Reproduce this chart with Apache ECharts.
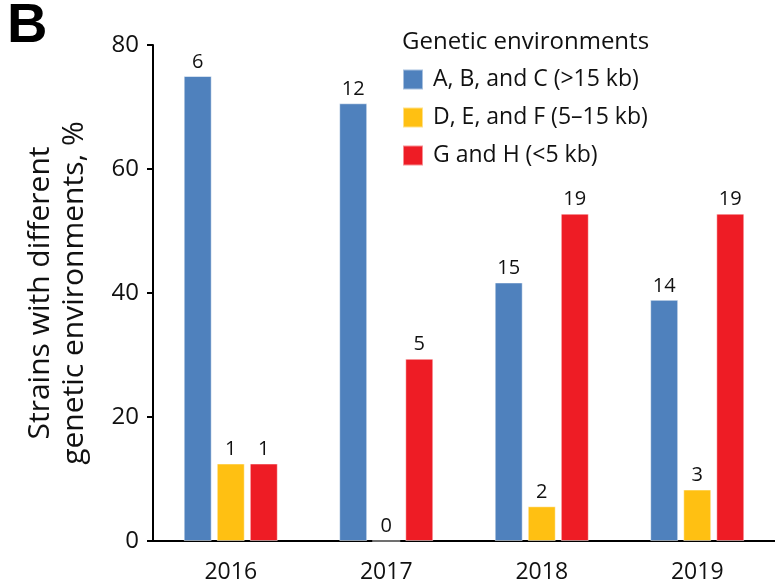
<!DOCTYPE html>
<html>
<head>
<meta charset="utf-8">
<script src="https://cdn.jsdelivr.net/npm/echarts@6/dist/echarts.min.js"></script>
<style>
  html, body { margin: 0; padding: 0; background: #fff; }
  #chart { width: 775px; height: 584px; }
</style>
</head>
<body>
<div id="chart"></div>
<script>
// ---- data ----
const years = ['2016', '2017', '2018', '2019'];
const seriesNames = ['A, B, and C (>15 kb)', 'D, E, and F (5\u201315 kb)', 'G and H (<5 kb)'];
// percentage of strains (bar heights)
const pctABC = [75.0, 70.6, 41.7, 38.9];
const pctDEF = [12.5, 0, 5.6, 8.3];
const pctGH = [12.5, 29.4, 52.8, 52.8];
// strain counts shown above bars
const cntABC = [6, 12, 15, 14];
const cntDEF = [1, 0, 2, 3];
const cntGH = [1, 5, 19, 19];
const yTicks = [0, 20, 40, 60, 80];

const colors = ['#4F81BD', '#FFC012', '#EE1C25'];
const font = '"Open Sans", "Noto Sans", sans-serif';

function mkSeries(name, vals, counts, color) {
  return {
    name: name,
    type: 'bar',
    data: vals.map((v, i) => ({ value: v, count: counts[i] })),
    barWidth: 28,
    barGap: '18%',
    itemStyle: { color: color, borderColor: 'rgba(255,255,255,0.5)', borderWidth: 1 },
    label: {
      show: true,
      position: 'top',
      distance: 4,
      fontFamily: font,
      fontSize: 20,
      color: '#111',
      formatter: p => String(p.data.count)
    },
    emphasis: { disabled: true }
  };
}

const chart = echarts.init(document.getElementById('chart'));
chart.setOption({
  animation: false,
  backgroundColor: '#fff',
  color: colors,
  grid: { left: 153, top: 45, bottom: 42, width: 628, containLabel: false },
  legend: {
    orient: 'vertical',
    left: 402,
    top: 68,
    padding: 0,
    itemWidth: 20,
    itemHeight: 20,
    itemGap: 15,
    icon: 'rect',
    data: seriesNames,
    textStyle: { fontFamily: font, fontSize: 23, lineHeight: 20, color: '#111', padding: [0, 0, 0, 5] },
    selectedMode: false
  },
  graphic: [
    {
      type: 'text', left: 7, top: -1,
      style: { text: 'B', fontFamily: '"Liberation Sans Narrow", "Liberation Sans", Arial, sans-serif', fontWeight: 'bold', fontSize: 56, fill: '#000' }
    },
    {
      type: 'text', left: 402, top: 30,
      style: { text: 'Genetic environments', fontFamily: font, fontSize: 24, fill: '#111' }
    }
  ],
  xAxis: {
    type: 'category',
    data: years,
    axisLine: { lineStyle: { color: '#000', width: 2 } },
    axisTick: { show: false },
    axisLabel: { fontFamily: font, fontSize: 23, color: '#111', margin: 20 }
  },
  yAxis: {
    type: 'value',
    min: 0,
    max: 80,
    interval: 20,
    name: 'Strains with different\ngenetic environments, %',
    nameLocation: 'middle',
    nameGap: 62,
    nameRotate: 90,
    nameTextStyle: { fontFamily: font, fontSize: 30, color: '#111', lineHeight: 34 },
    axisLine: { show: true, lineStyle: { color: '#000', width: 2 } },
    axisTick: { show: true, length: 6, lineStyle: { color: '#000', width: 2 } },
    axisLabel: { fontFamily: font, fontSize: 24, color: '#111', margin: 14 },
    splitLine: { show: false }
  },
  series: [
    mkSeries(seriesNames[0], pctABC, cntABC, colors[0]),
    mkSeries(seriesNames[1], pctDEF, cntDEF, colors[1]),
    mkSeries(seriesNames[2], pctGH, cntGH, colors[2])
  ]
});
</script>
</body>
</html>
